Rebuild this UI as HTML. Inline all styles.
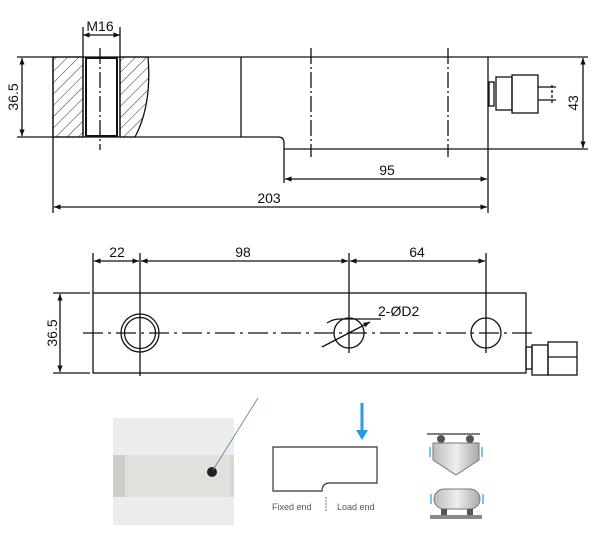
<!DOCTYPE html>
<html><head><style>body{margin:0;background:#fff}svg{display:block}text{font-family:"Liberation Sans",sans-serif;fill:#111}</style></head><body>
<svg width="600" height="535" viewBox="0 0 600 535" xmlns="http://www.w3.org/2000/svg">
<defs>
<marker id="a" viewBox="0 0 10 10" refX="10" refY="5" markerWidth="7" markerHeight="5" orient="auto-start-reverse"><path d="M0,1 L10,5 L0,9z" fill="#111"/></marker>
<pattern id="h" width="8" height="8" patternUnits="userSpaceOnUse" patternTransform="rotate(45)"><line x1="0" y1="0" x2="0" y2="8" stroke="#333" stroke-width="1"/></pattern>
<linearGradient id="g1" x1="0" y1="0" x2="1" y2="0"><stop offset="0" stop-color="#bbb"/><stop offset="0.5" stop-color="#eee"/><stop offset="1" stop-color="#aaa"/></linearGradient>
</defs>
<g stroke="#111" stroke-width="1.3" fill="none">
<!-- top view -->
<path d="M53,57 H83 V137 H53z" fill="url(#h)"/>
<path d="M120,57 H148 Q152,105 135,137 H120z" fill="url(#h)"/>
<rect x="86" y="58" width="31" height="78" stroke-width="2"/>
<line x1="17" y1="57" x2="588" y2="57"/>
<line x1="17" y1="137" x2="278" y2="137"/>
<path d="M278,137 Q284,137 284,143 V183"/>
<line x1="284" y1="149" x2="588" y2="149"/>
<line x1="53" y1="57" x2="53" y2="213"/>
<line x1="83" y1="27" x2="83" y2="137"/>
<line x1="120" y1="27" x2="120" y2="137"/>
<line x1="241" y1="57" x2="241" y2="137"/>
<line x1="488" y1="57" x2="488" y2="213"/>
<line x1="100" y1="48" x2="100" y2="150" stroke-dasharray="16,3,2,3"/>
<line x1="311" y1="48" x2="311" y2="157" stroke-dasharray="16,3,2,3"/>
<line x1="448" y1="48" x2="448" y2="157" stroke-dasharray="16,3,2,3"/>
<line x1="83" y1="35" x2="120" y2="35" marker-start="url(#a)" marker-end="url(#a)"/>
<line x1="22" y1="58" x2="22" y2="136" marker-start="url(#a)" marker-end="url(#a)"/>
<line x1="583" y1="58" x2="583" y2="148" marker-start="url(#a)" marker-end="url(#a)"/>
<line x1="285" y1="179" x2="487" y2="179" marker-start="url(#a)" marker-end="url(#a)"/>
<line x1="54" y1="207" x2="487" y2="207" marker-start="url(#a)" marker-end="url(#a)"/>
<!-- connector top -->
<rect x="489" y="82" width="5" height="24"/><rect x="496" y="77" width="16" height="33"/><rect x="512" y="75" width="26" height="38"/><line x1="538" y1="87" x2="556" y2="87"/><line x1="538" y1="100" x2="556" y2="100"/><line x1="552" y1="85" x2="552" y2="103" stroke-dasharray="3,2"/>
<!-- front view -->
<rect x="93" y="293" width="433" height="80"/>
<line x1="53" y1="293" x2="90" y2="293"/><line x1="53" y1="373" x2="90" y2="373"/>
<line x1="60" y1="294" x2="60" y2="372" marker-start="url(#a)" marker-end="url(#a)"/>
<line x1="93" y1="253" x2="93" y2="293"/>
<line x1="140" y1="253" x2="140" y2="376"/>
<line x1="349" y1="253" x2="349" y2="353"/>
<line x1="486" y1="253" x2="486" y2="353"/>
<line x1="94" y1="261" x2="139" y2="261" marker-start="url(#a)" marker-end="url(#a)"/>
<line x1="141" y1="261" x2="348" y2="261" marker-start="url(#a)" marker-end="url(#a)"/>
<line x1="350" y1="261" x2="485" y2="261" marker-start="url(#a)" marker-end="url(#a)"/>
<line x1="83" y1="333" x2="537" y2="333" stroke-dasharray="20,5,3,5"/>
<circle cx="140" cy="333" r="19"/><circle cx="140" cy="333" r="15.5"/>
<circle cx="349" cy="333" r="15"/><circle cx="486" cy="333" r="15"/>
<line x1="322" y1="347" x2="370" y2="322" marker-end="url(#a)"/><path d="M327,323 Q333,319 340,319 H381"/>
<rect x="526" y="347" width="6" height="22"/><rect x="532" y="345" width="16" height="30"/><rect x="548" y="342" width="29" height="33"/><line x1="548" y1="357" x2="577" y2="357"/>
</g>
<g font-size="14">
<text x="100" y="31" text-anchor="middle">M16</text>
<text x="387" y="175" text-anchor="middle">95</text>
<text x="269" y="203" text-anchor="middle">203</text>
<text transform="translate(18,97) rotate(-90)" text-anchor="middle">36.5</text>
<text transform="translate(578,103) rotate(-90)" text-anchor="middle">43</text>
<text x="117" y="257" text-anchor="middle">22</text>
<text x="243" y="257" text-anchor="middle">98</text>
<text x="417" y="257" text-anchor="middle">64</text>
<text transform="translate(57,333) rotate(-90)" text-anchor="middle">36.5</text>
<text x="378" y="316">2-ØD2</text>
</g>
<!-- photo -->
<rect x="113" y="418" width="121" height="107" fill="#ececea"/>
<rect x="113" y="455" width="121" height="42" fill="#d8d6d2"/>
<rect x="125" y="455" width="105" height="42" fill="#e2e0dc"/>
<rect x="113" y="455" width="12" height="42" fill="#cfcdc9"/>
<circle cx="212" cy="472" r="5" fill="#222"/>
<line x1="258" y1="398" x2="213" y2="470" stroke="#4a7fb0" stroke-width="0.8"/>
<!-- beam diagram -->
<path d="M273,447 H377 V483 H330 Q322,483 322,491 H273z" fill="none" stroke="#333" stroke-width="1.2"/>
<line x1="362" y1="403" x2="362" y2="432" stroke="#2a9be0" stroke-width="3"/><path d="M356,430 L368,430 L362,440z" fill="#2a9be0"/>
<line x1="326" y1="497" x2="326" y2="512" stroke="#777" stroke-dasharray="2,1"/>
<g font-size="9"><text x="272" y="510" style="fill:#555">Fixed end</text><text x="337" y="510" style="fill:#555">Load end</text></g>
<!-- icons -->
<line x1="427" y1="434" x2="480" y2="434" stroke="#555" stroke-width="1.5"/>
<circle cx="441" cy="439" r="4" fill="#555"/><circle cx="470" cy="439" r="4" fill="#555"/>
<path d="M433,443 H479 V460 L456,475 L433,460z" fill="url(#g1)" stroke="#777"/>
<rect x="434" y="489" width="46" height="20" rx="10" fill="url(#g1)" stroke="#777"/>
<rect x="441" y="509" width="6" height="6" fill="#555"/><rect x="467" y="509" width="6" height="6" fill="#555"/>
<rect x="430" y="515" width="52" height="4" fill="#888"/>
<g stroke="#2a9be0" stroke-width="1.2"><line x1="430" y1="447" x2="430" y2="457"/><line x1="482" y1="447" x2="482" y2="457"/><line x1="431" y1="494" x2="431" y2="504"/><line x1="483" y1="494" x2="483" y2="504"/></g>
</svg>
</body></html>
